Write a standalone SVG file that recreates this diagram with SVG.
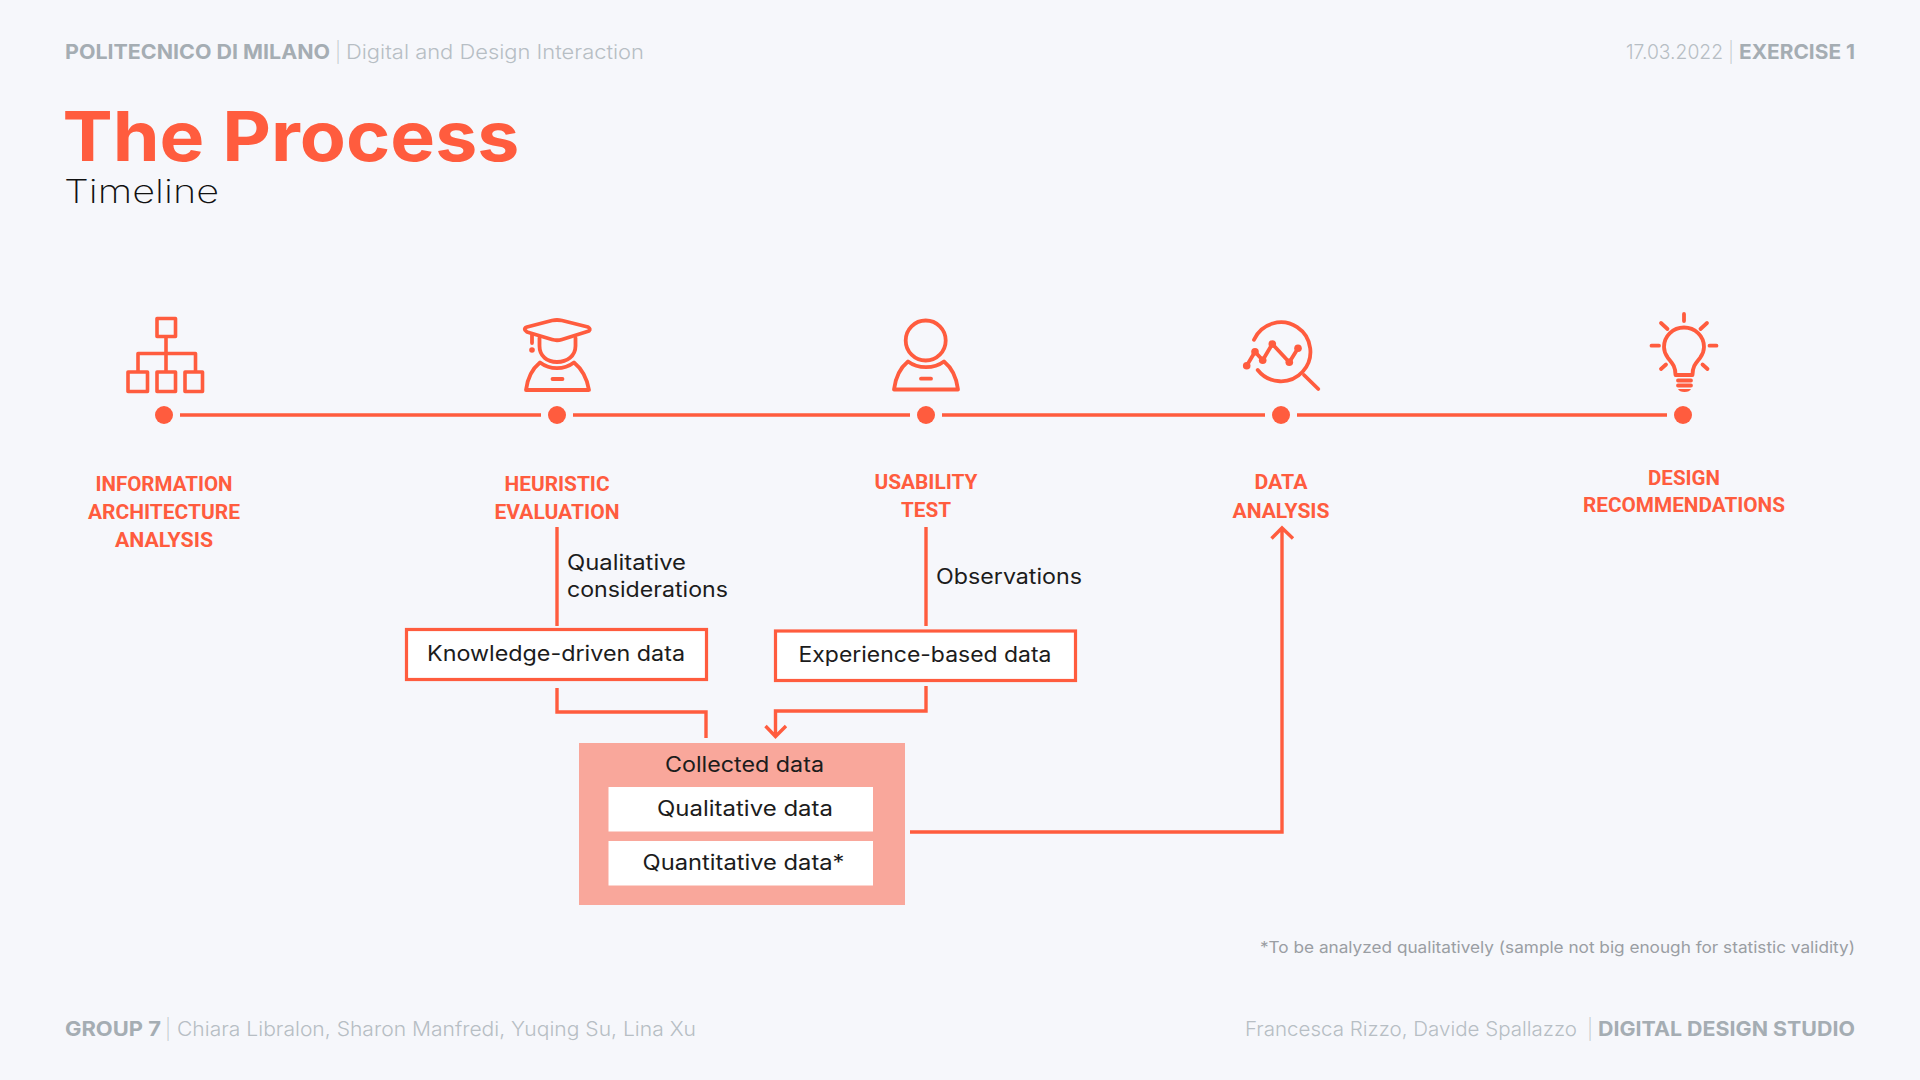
<svg xmlns="http://www.w3.org/2000/svg" width="1920" height="1080" viewBox="0 0 1920 1080">
<style>
.ic{fill:none;stroke:#FF5C3E;stroke-width:3.8;stroke-linecap:round;stroke-linejoin:round}
.sq{fill:none;stroke:#FF5C3E;stroke-width:3.6;stroke-linejoin:round}
.dot{fill:#FF5C3E}
.lb{font-family:Roboto,"Liberation Sans",sans-serif;font-weight:700;font-size:20px;fill:#FF5C3E;text-anchor:middle}
.tx{font-family:Inter,"Liberation Sans",sans-serif;font-weight:400;font-size:21px;fill:#1c1c1c}
.hb{font-family:Inter,"Liberation Sans",sans-serif;font-weight:700;font-size:20px;fill:#A5ADB3}
.hl{font-family:Inter,"Liberation Sans",sans-serif;font-weight:300;font-size:20px;fill:#B7BEC4}
.cn{fill:none;stroke:#FF5C3E;stroke-width:3.4}
.box{fill:#fff;stroke:#FF5C3E;stroke-width:3.2}
</style>
<rect width="1920" height="1080" fill="#F6F7FB"/>
<g id="header">
<text class="hb" x="65" y="59" textLength="265" lengthAdjust="spacingAndGlyphs">POLITECNICO DI MILANO</text>
<text class="hl" x="336" y="59" font-size="18" textLength="4" lengthAdjust="spacingAndGlyphs">|</text>
<text class="hl" x="346" y="59" textLength="298" lengthAdjust="spacingAndGlyphs">Digital and Design Interaction</text>
<text class="hl" x="1626" y="59" textLength="97" lengthAdjust="spacingAndGlyphs">17.03.2022</text>
<text class="hl" x="1729" y="59" textLength="4" lengthAdjust="spacingAndGlyphs">|</text>
<text class="hb" x="1739" y="59" textLength="116" lengthAdjust="spacingAndGlyphs">EXERCISE 1</text>
<text x="62.500" y="161" font-family="Inter,'Liberation Sans',sans-serif" font-weight="700" font-size="69" fill="#FF5C3E" textLength="457" lengthAdjust="spacingAndGlyphs">The Process</text>
<text x="64" y="203" font-family="Inter,'Liberation Sans',sans-serif" font-weight="200" font-size="33" fill="#111" textLength="155" lengthAdjust="spacingAndGlyphs">Timeline</text>
</g>
<g id="connectors">
<path class="cn" d="M180 415H541M573 415H910M942 415H1265M1297 415H1667"/>
<path class="cn" d="M557 527V626M926 527V626"/>
<path class="cn" d="M557 688V712H706V738"/>
<path class="cn" d="M926 686V711H775.500V736M765.500 726L775.500 736.500L786 726"/>
<path class="cn" d="M910 832H1282V528M1271.500 538.500L1282 528L1293 538.500"/>
</g>
<g id="node-ia">
<rect class="sq" x="157" y="318.500" width="18.500" height="18"/>
<path class="sq" d="M166 336.500V371M138 371V353.500H195.500V371"/>
<rect class="sq" x="128" y="372" width="19.500" height="19.500"/>
<rect class="sq" x="157" y="372" width="18.500" height="19.500"/>
<rect class="sq" x="185" y="372" width="17.500" height="19.500"/>
<circle class="dot" cx="164" cy="415" r="9"/>
<text class="lb" x="164" y="491" textLength="137" lengthAdjust="spacingAndGlyphs">INFORMATION</text>
<text class="lb" x="164" y="519" textLength="152" lengthAdjust="spacingAndGlyphs">ARCHITECTURE</text>
<text class="lb" x="164" y="547" textLength="98" lengthAdjust="spacingAndGlyphs">ANALYSIS</text>
</g>
<g id="node-heuristic">
<path class="ic" d="M525 330Q524 328 527 327L552 320.500Q557 319.500 562 320.500L588 327Q591 329 589 331L562 339.500Q557 341 552 339.500L527 332Z"/>
<path class="ic" d="M539.500 338V346C539.500 356 547 362 557 362C567 362 575.500 356 575.500 346V338"/>
<path class="ic" d="M532 335V343"/>
<circle class="dot" cx="532" cy="350" r="2.800"/>
<path class="ic" d="M526 390C527.500 378 532 369 540 362.500C550 370 564 370 574 362.500C582 369 587 378 589 390Z"/>
<path class="ic" d="M552.500 379H562.500"/>
<circle class="dot" cx="557" cy="415" r="9"/>
<text class="lb" x="557" y="491" textLength="105" lengthAdjust="spacingAndGlyphs">HEURISTIC</text>
<text class="lb" x="557" y="519" textLength="125" lengthAdjust="spacingAndGlyphs">EVALUATION</text>
<text class="tx" x="567" y="570" textLength="119" lengthAdjust="spacingAndGlyphs">Qualitative</text>
<text class="tx" x="567" y="597" textLength="161" lengthAdjust="spacingAndGlyphs">considerations</text>
</g>
<g id="node-usability">
<circle class="ic" cx="925.700" cy="340.500" r="20"/>
<path class="ic" d="M894 389.500C895.500 377 900 368 908 361.500C918 369 934 369 944 361.500C952 368 956.500 377 958 389.500Z"/>
<path class="ic" d="M921 378.700H931"/>
<circle class="dot" cx="926" cy="415" r="9"/>
<text class="lb" x="926" y="488.500" textLength="103" lengthAdjust="spacingAndGlyphs">USABILITY</text>
<text class="lb" x="926" y="516.500" textLength="50" lengthAdjust="spacingAndGlyphs">TEST</text>
<text class="tx" x="936" y="584" textLength="146" lengthAdjust="spacingAndGlyphs">Observations</text>
</g>
<g id="node-analysis">
<path class="ic" d="M1254 339.700A29.500 29.500 0 1 1 1257.700 370"/>
<path class="ic" d="M1304 375L1318.300 389"/>
<path class="ic" d="M1246.700 365.700L1255 351.700L1262.700 360.300L1272.300 344L1289.300 362.300L1298 348.300"/>
<circle class="dot" cx="1246.700" cy="365.700" r="3.800"/>
<circle class="dot" cx="1255" cy="351.700" r="3.800"/>
<circle class="dot" cx="1262.700" cy="360.300" r="3.800"/>
<circle class="dot" cx="1272.300" cy="344" r="3.800"/>
<circle class="dot" cx="1289.300" cy="362.300" r="3.800"/>
<circle class="dot" cx="1298" cy="348.300" r="3.800"/>
<circle class="dot" cx="1281" cy="415" r="9"/>
<text class="lb" x="1281" y="489" textLength="53" lengthAdjust="spacingAndGlyphs">DATA</text>
<text class="lb" x="1281" y="517.500" textLength="97" lengthAdjust="spacingAndGlyphs">ANALYSIS</text>
</g>
<g id="node-design">
<path class="ic" d="M1684 314V321M1709.500 345.700H1716.500M1651.500 345.700H1659M1661 323L1667.500 329M1700.500 329L1707 323M1661 369L1666 364.500M1702.500 364.500L1707.500 369"/>
<path class="ic" d="M1675.500 375C1675.500 366 1672 363 1668 358C1665 354 1664 351 1664 347C1664 336 1673 327.500 1684 327.500C1695 327.500 1704 336 1704 347C1704 351 1703 354 1700 358C1696 363 1692.500 366 1692.500 375Z"/>
<path class="ic" d="M1678 380.500H1691M1678 385.500H1691"/>
<path d="M1678 389H1691C1690 391 1688 392 1684.500 392C1681 392 1679 391 1678 389Z" class="dot"/>
<circle class="dot" cx="1683" cy="415" r="9"/>
<text class="lb" x="1684" y="484.500" textLength="72" lengthAdjust="spacingAndGlyphs">DESIGN</text>
<text class="lb" x="1684" y="512" textLength="202" lengthAdjust="spacingAndGlyphs">RECOMMENDATIONS</text>
</g>
<g id="node-knowledge">
<rect class="box" x="406.500" y="629.500" width="300" height="50"/>
<text class="tx" x="427" y="660.500" textLength="258" lengthAdjust="spacingAndGlyphs">Knowledge-driven data</text>
</g>
<g id="node-experience">
<rect class="box" x="775.500" y="631" width="300" height="49.500"/>
<text class="tx" x="798.500" y="661.500" textLength="253" lengthAdjust="spacingAndGlyphs">Experience-based data</text>
</g>
<g id="node-collected">
<rect x="579" y="743" width="326" height="162" fill="#F9A79B"/>
<text class="tx" x="665" y="771.500" textLength="159" lengthAdjust="spacingAndGlyphs">Collected data</text>
<rect x="608.500" y="787" width="264.500" height="44.500" fill="#fff"/>
<text class="tx" x="657" y="815.500" textLength="176" lengthAdjust="spacingAndGlyphs">Qualitative data</text>
<rect x="608.500" y="841" width="264.500" height="44.500" fill="#fff"/>
<text class="tx" x="642.500" y="869.500" textLength="202" lengthAdjust="spacingAndGlyphs">Quantitative data*</text>
</g>
<g id="footer">
<text x="1260" y="953" font-family="Inter,'Liberation Sans',sans-serif" font-size="16" fill="#9A9EA3" textLength="595" lengthAdjust="spacingAndGlyphs">*To be analyzed qualitatively (sample not big enough for statistic validity)</text>
<text class="hb" x="65" y="1036" textLength="96" lengthAdjust="spacingAndGlyphs">GROUP 7</text>
<text class="hl" x="166" y="1036" textLength="4" lengthAdjust="spacingAndGlyphs">|</text>
<text class="hl" x="177" y="1036" textLength="519" lengthAdjust="spacingAndGlyphs">Chiara Libralon, Sharon Manfredi, Yuqing Su, Lina Xu</text>
<text class="hl" x="1245" y="1036" textLength="332" lengthAdjust="spacingAndGlyphs">Francesca Rizzo, Davide Spallazzo</text>
<text class="hl" x="1588" y="1036" textLength="4" lengthAdjust="spacingAndGlyphs">|</text>
<text class="hb" x="1598" y="1036" textLength="257" lengthAdjust="spacingAndGlyphs">DIGITAL DESIGN STUDIO</text>
</g>
</svg>
